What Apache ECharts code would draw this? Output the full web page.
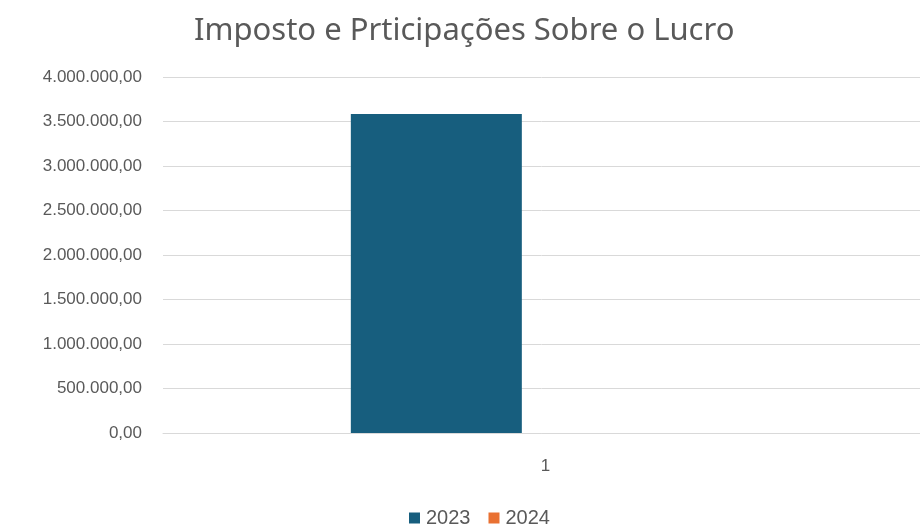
<!DOCTYPE html>
<html>
<head>
<meta charset="utf-8">
<script src="https://cdn.jsdelivr.net/npm/echarts@6/dist/echarts.min.js"></script>
<style>
html,body{margin:0;padding:0;background:#fff;}
#chartDiv{width:920px;height:527px;}
</style>
</head>
<body>
<div id="chartDiv"></div>
<script>
var titulo = 'Imposto e Prticipações Sobre o Lucro'
var categorias = ['1']
var anos = ['2023', '2024']
var valores2023 = [3585000]
var valores2024 = [0]
var cores = ['#175E7E', '#E97132']

// formato brasileiro: 4.000.000,00
var formatBR = function(val){
    var partes = Number(val).toFixed(2).split('.')
    var inteiro = partes[0].replace(/\B(?=(\d{3})+(?!\d))/g, '.')
    return inteiro + ',' + partes[1]
}

var myChart = echarts.init(document.getElementById('chartDiv'));
var option = {
    color: cores,
    animation: false,
    title: {
        text: titulo,
        left: 189,
        top: 11,
        textStyle: {
            fontFamily: 'Noto Sans',
            fontSize: 31,
            fontWeight: 'normal',
            color: '#595959'
        }
    },
    legend: {
        data: anos,
        top: 503,
        left: 404,
        itemWidth: 11,
        itemHeight: 11,
        itemGap: 18,
        icon: 'rect',
        textStyle: {
            fontFamily: 'Liberation Sans',
            fontSize: 20,
            color: '#595959',
            padding: [0, 0, 0, 1]
        }
    },
    grid: {
        left: 163,
        right: 0,
        top: 77,
        bottom: 94
    },
    xAxis: {
        type: 'category',
        data: categorias,
        axisTick: {show: false},
        axisLine: {lineStyle: {color: '#D9D9D9', width: 1}},
        axisLabel: {
            margin: 25,
            fontFamily: 'Liberation Sans',
            fontSize: 17,
            color: '#595959',
            padding: [0, 0, 0, 8]
        }
    },
    yAxis: {
        type: 'value',
        min: 0,
        max: 4000000,
        interval: 500000,
        axisLine: {show: false},
        axisTick: {show: false},
        splitLine: {lineStyle: {color: '#D9D9D9', width: 1}},
        axisLabel: {
            margin: 21,
            fontFamily: 'Liberation Sans',
            fontSize: 17,
            color: '#595959',
            formatter: formatBR
        }
    },
    series: [
        {
            name: anos[0],
            type: 'bar',
            data: valores2023,
            barWidth: 171,
            barGap: '23%'
        },
        {
            name: anos[1],
            type: 'bar',
            data: valores2024,
            barWidth: 171,
            barGap: '23%'
        }
    ]
};
myChart.setOption(option);
</script>
</body>
</html>
